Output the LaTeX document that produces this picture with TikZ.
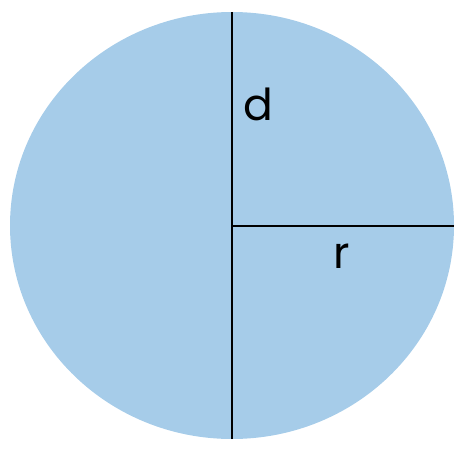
\documentclass[tikz,border=0pt]{standalone}
\usepackage{fontspec}
\setmainfont{Poppins}
\definecolor{disk}{HTML}{A6CCE9}
\begin{document}
\begin{tikzpicture}[x=1pt,y=-1pt,
  lbl/.style={inner sep=0pt,font=\fontsize{44}{44}\selectfont},
  seg/.style={draw=black,line width=2pt}]
\useasboundingbox (0,0) rectangle (462,450);
\fill[disk] (232,225.5) ellipse [x radius=222, y radius=213.5];
\coordinate (top) at (232,12);
\coordinate (bot) at (232,439);
\coordinate (c) at (232,226);
\coordinate (right) at (453.5,226);
\draw[seg] (top) -- (bot);
\draw[seg] (c) -- (right);
\node[lbl] (d) at (258,104) {d};
\node[lbl] (r) at (342,256) {r};
\end{tikzpicture}
\end{document}
